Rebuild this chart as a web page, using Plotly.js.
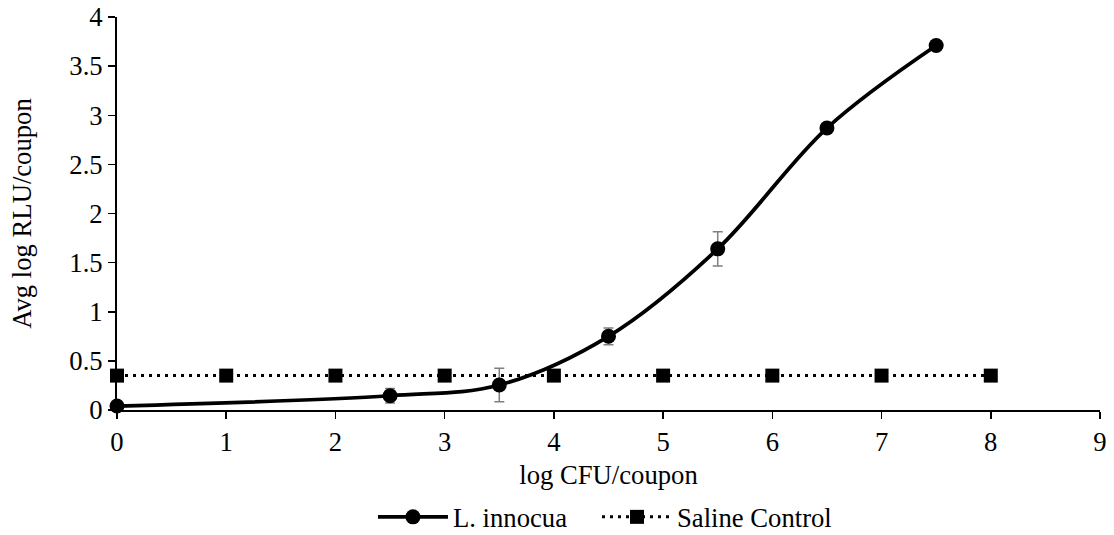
<!DOCTYPE html>
<html>
<head>
<meta charset="utf-8">
<script src="https://cdn.plot.ly/plotly-3.0.1.min.js"></script>
<style>html,body{margin:0;padding:0;background:#fff;}#chart{width:1114px;height:535px;}</style>
</head>
<body>
<div id="chart"></div>
<script>
const innocuaX = [0, 2.5, 3.5, 4.5, 5.5, 6.5, 7.5];
const innocuaY = [0.04, 0.145, 0.255, 0.75, 1.64, 2.87, 3.71];
const innocuaErr = [0, 0.075, 0.17, 0.085, 0.175, 0.02, 0.02];
const salineX = [0, 1, 2, 3, 4, 5, 6, 7, 8];
const salineY = [0.35, 0.35, 0.35, 0.35, 0.35, 0.35, 0.35, 0.35, 0.35];
const xTicks = [0, 1, 2, 3, 4, 5, 6, 7, 8, 9];
const yTicks = [0, 0.5, 1, 1.5, 2, 2.5, 3, 3.5, 4];

const font = {family: '"Liberation Serif", "Times New Roman", serif', color: '#000', size: 26.67};

const traces = [
  {
    x: innocuaX, y: innocuaY, name: 'L. innocua', type: 'scatter', mode: 'lines+markers',
    line: {color: '#000', width: 3.75, shape: 'spline', smoothing: 1},
    marker: {symbol: 'circle', size: 15, color: '#000'},
    error_y: {type: 'data', array: innocuaErr, visible: true, color: '#7f7f7f', thickness: 1.5, width: 5},
    cliponaxis: false,
    legend: 'legend'
  },
  {
    x: salineX, y: salineY, name: 'Saline Control', type: 'scatter', mode: 'lines+markers',
    line: {color: '#000', width: 3, dash: '3px,5px'},
    marker: {symbol: 'square', size: 14, color: '#000'},
    cliponaxis: false,
    legend: 'legend2'
  }
];

const legendBase = {orientation: 'h', xref: 'container', yref: 'container', xanchor: 'left',
                    y: 0.0336, yanchor: 'middle', font: font, itemwidth: 70, bgcolor: 'rgba(0,0,0,0)'};

const layout = {
  width: 1114, height: 535,
  margin: {l: 117, r: 14, t: 17, b: 125},
  paper_bgcolor: '#fff', plot_bgcolor: '#fff',
  font: font,
  showlegend: true,
  legend: Object.assign({}, legendBase, {x: 0.3348}),
  legend2: Object.assign({}, legendBase, {x: 0.5359}),
  xaxis: {
    range: [0, 9], tickvals: xTicks, ticktext: xTicks.map(String),
    showgrid: false, zeroline: false, showline: true, linecolor: '#000', linewidth: 2,
    ticks: 'outside', ticklen: 7, tickwidth: 1.5, tickcolor: '#000',
    tickfont: font,
    title: {text: 'log CFU/coupon', font: font, standoff: 9}
  },
  yaxis: {
    range: [0, 4], tickvals: yTicks, ticktext: yTicks.map(String),
    showgrid: false, zeroline: false, showline: true, linecolor: '#000', linewidth: 2,
    ticks: 'outside', ticklen: 7, tickwidth: 1.5, tickcolor: '#000',
    tickfont: font,
    title: {text: 'Avg log RLU/coupon', font: font, standoff: 30}
  }
};

Plotly.newPlot('chart', traces, layout, {displayModeBar: false, staticPlot: true});
</script>
</body>
</html>
